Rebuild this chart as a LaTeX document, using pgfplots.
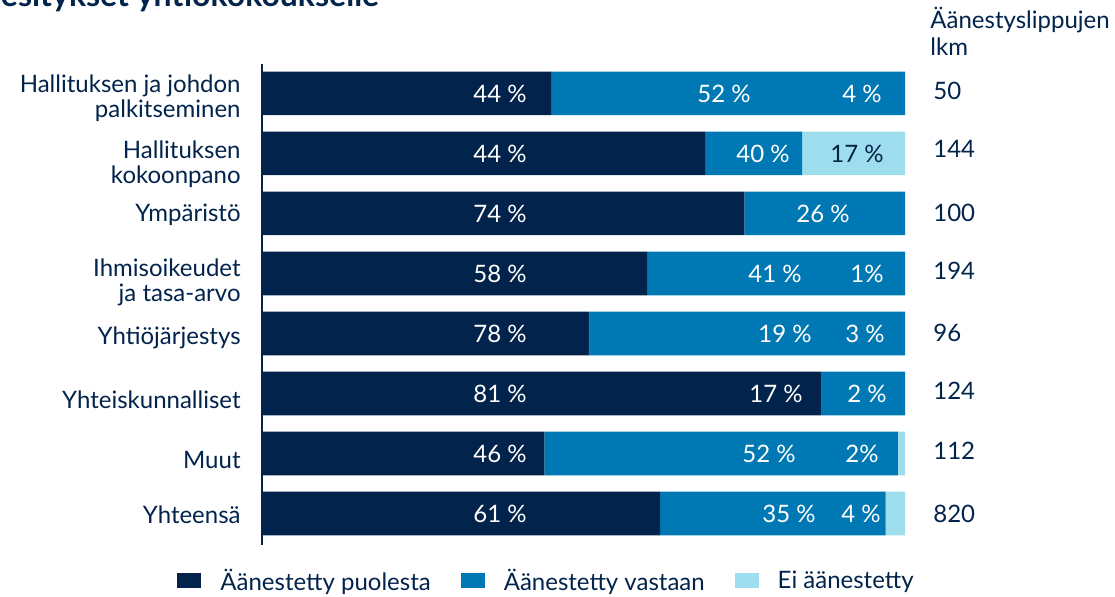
\documentclass[border=0pt]{standalone}
\usepackage{fontspec}
\setmainfont{Lato}
\usepackage{pgfplots}
\pgfplotsset{compat=1.18}
\usepackage{pgfplotstable}

\definecolor{navy}{HTML}{02234B}
\definecolor{midblue}{HTML}{0078B4}
\definecolor{lightblue}{HTML}{9EDDEE}

% bar lengths as drawn (share of the bar, %)
\pgfplotstableread{
row puolesta vastaan ei
0   44.95    55.05   0
1   68.9     15.1    16.0
2   75.0     25.0    0
3   59.9     40.1    0
4   50.9     49.1    0
5   86.9     13.1    0
6   43.9     55.0    1.1
7   61.9     35.1    3.0
}\votes

\begin{document}
\begin{tikzpicture}[font=\fontsize{12}{12.5}\selectfont, text=navy]
\path[use as bounding box] (0,0) rectangle (557.5pt,-298pt);

\begin{axis}[
    at={(131pt,-272.5pt)}, anchor=south west,
    scale only axis, width=321.5pt, height=240.5pt,
    xbar stacked, bar width=21.8pt,
    xmin=0, xmax=100, ymin=-0.49, ymax=7.525, y dir=reverse,
    axis x line=none, axis y line*=left,
    y axis line style={navy, line width=0.7pt},
    ytick=\empty,
    clip=false,
    legend columns=3,
    legend image code/.code={\fill[#1] (0pt,-3.75pt) rectangle (12pt,3.75pt);},
    legend style={at={(-0.1322,-0.0748)}, anchor=west, draw=none, fill=none,
        inner sep=0pt, column sep=0pt,
        nodes={inner sep=0pt, anchor=west, text=navy},
        /tikz/every odd column/.append style={column sep=9.5pt},
        /tikz/every even column/.append style={column sep=15pt}},
]
\addplot[fill=navy, draw=none] table[x=puolesta, y=row] {\votes};
\addlegendentry{Äänestetty puolesta}
\addplot[fill=midblue, draw=none] table[x=vastaan, y=row] {\votes};
\addlegendentry{Äänestetty vastaan}
\addplot[fill=lightblue, draw=none] table[x=ei, y=row] {\votes};
\addlegendentry{Ei äänestetty}
\end{axis}

% texts, in pixel units of the reference
\begin{scope}[x=0.5pt, y=-0.5pt]
\node[anchor=base east, font=\fontsize{16}{18}\selectfont\bfseries]
    at (386,6) {Osakkeenomistajien esitykset yhtiökokoukselle};
% value labels
\foreach \x/\y/\t in {500/93.5/44, 500/153.5/44, 500/213.5/74, 500/273.5/58,
    500/333.5/78, 500/393.5/81, 500/453.5/46, 500/513.5/61,
    724/93.5/52, 763/153.5/40, 823/213.5/26, 775/273.5/41,
    785/333.5/19, 776/393.5/17, 769/453.5/52, 789/513.5/35,
    862/93.5/4, 865/333.5/3, 867/393.5/2, 861/513.5/4}
    \node[text=white] at (\x,\y) {\t\ \%};
\node[text=white] at (867,273.5) {1\%};
\node[text=white] at (862,453.5) {2\%};
\node[text=navy] at (857,153.5) {17 \%};
% categories
\begin{scope}[every node/.style={anchor=east, align=right, inner xsep=0pt}]
\node at (241,98)  {Hallituksen ja johdon\\palkitseminen};
\node at (241,164) {Hallituksen\\kokoonpano};
\node at (241,215) {Ympäristö};
\node at (241,282) {Ihmisoikeudet\\ja tasa-arvo};
\node at (241,338) {Yhtiöjärjestys};
\node at (241,400) {Yhteiskunnalliset};
\node at (241,460) {Muut};
\node at (241,515) {Yhteensä};
\end{scope}
% ballot counts
\node[anchor=base west, inner sep=0pt] at (930,28) {Äänestyslippujen};
\node[anchor=base west, inner sep=0pt] at (930,55) {lkm};
\foreach \y/\n in {91/50, 149/144, 213/100, 271/194, 333/96, 391/124, 451/112, 514/820}
    \node[anchor=west, inner sep=0pt] at (933,\y) {\n};
\end{scope}
\end{tikzpicture}
\end{document}
